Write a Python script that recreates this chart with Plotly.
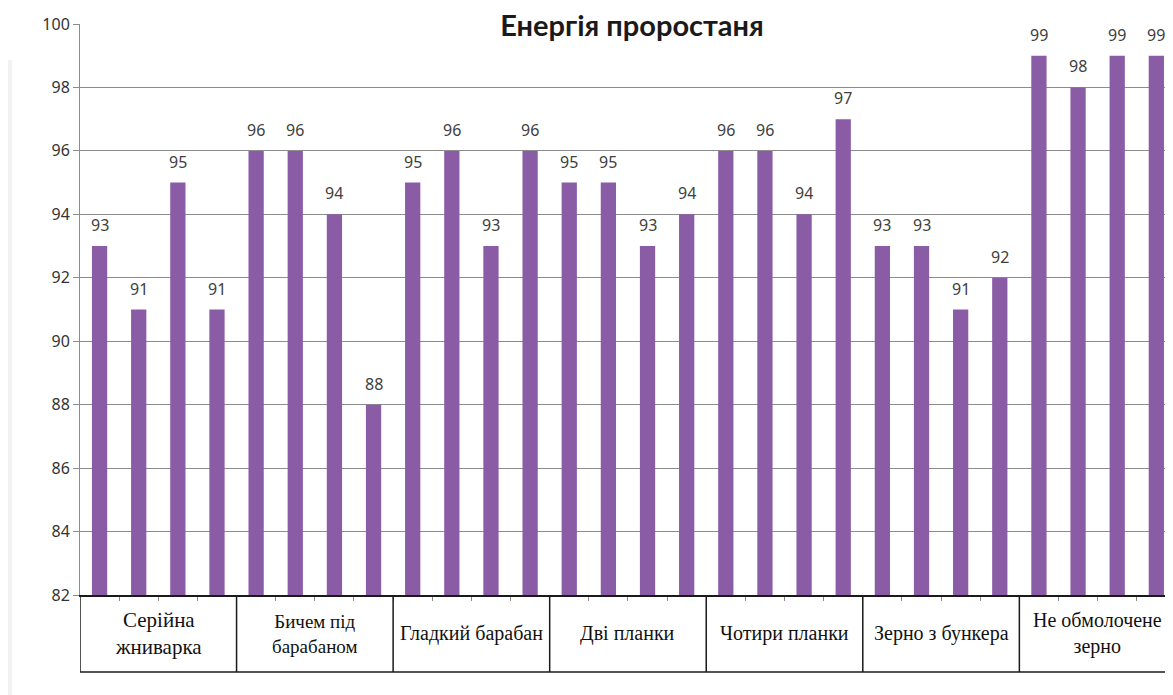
import plotly.graph_objects as go

groups = ["Серійна<br>жниварка", "Бичем під<br>барабаном", "Гладкий барабан", "Дві планки",
          "Чотири планки", "Зерно з бункера", "Не обмолочене<br>зерно"]
values = [93, 91, 95, 91,
          96, 96, 94, 88,
          95, 96, 93, 96,
          95, 95, 93, 94,
          96, 96, 94, 97,
          93, 93, 91, 92,
          99, 98, 99, 99]
y_ticks = [82, 84, 86, 88, 90, 92, 94, 96, 98, 100]
title = "Енергія проростаня"

# page has an 8px body margin: figure starts at (8, 8)
OFF = 8
W, H = 1173, 695
L, T = 80 - OFF, 24 - OFF
B = H + OFF - 595
plot_w = W - L
plot_h = H - T - B
slot = 39.14
bars_per_group = 4
xpos = list(range(len(values)))
x_max = -0.5 + plot_w / slot
table_bottom = -(672 - 595) / plot_h

fig = go.Figure()
fig.add_trace(go.Bar(x=xpos, y=values, width=0.39, marker=dict(color="#8A5CA6", line=dict(width=0)),
                     cliponaxis=False))

annotations = []
for x, v in zip(xpos, values):
    annotations.append(dict(x=x, y=v, xref="x", yref="y", text=str(v), showarrow=False,
                            yanchor="middle", yshift=21,
                            font=dict(family="Noto Sans", size=16, color="#404040")))
group_sizes = [21, 19, 20, 20, 20, 20, 20]
for i, g in enumerate(groups):
    c = i * bars_per_group + (bars_per_group - 1) / 2
    annotations.append(dict(x=c, y=table_bottom / 2, xref="x", yref="paper", text=g, showarrow=False,
                            yanchor="middle", xanchor="center",
                            font=dict(family="Times New Roman, Liberation Serif, serif",
                                      size=group_sizes[i], color="#111111")))

shapes = []
for i in range(len(groups)):
    xb = i * bars_per_group - 0.5
    shapes.append(dict(type="line", xref="x", yref="paper", x0=xb, x1=xb, y0=0, y1=table_bottom,
                       line=dict(color="#1a1a1a", width=1.5)))
shapes.append(dict(type="line", xref="x", yref="paper", x0=-0.5, x1=x_max, y0=table_bottom, y1=table_bottom,
                   line=dict(color="#1a1a1a", width=1.5)))
shapes.append(dict(type="rect", xref="paper", yref="paper", x0=-(80 - OFF) / plot_w, x1=-(80 - 12) / plot_w,
                   y0=-B / plot_h, y1=(595 - 60) / plot_h, fillcolor="#f2f2f2", line=dict(width=0),
                   layer="below"))

fig.update_layout(
    width=W, height=H,
    margin=dict(l=L, r=0, t=T, b=B),
    paper_bgcolor="white", plot_bgcolor="white",
    showlegend=False,
    title=dict(text="<b>" + title + "</b>", x=(632 - OFF) / W, xanchor="center",
               y=1 - (26 - OFF) / H, yanchor="middle",
               font=dict(family="Lato", size=29, color="#1a1a1a")),
    xaxis=dict(range=[-0.5, x_max], showgrid=False, zeroline=False,
               showline=True, linecolor="#1a1a1a", linewidth=1.5,
               tickvals=[x + 0.5 for x in xpos], ticktext=["" for _ in xpos],
               ticks="outside", ticklen=4, tickcolor="#888888"),
    yaxis=dict(range=[82, 100], tickvals=y_ticks, showgrid=True, gridcolor="#8c8c8c", gridwidth=1,
               zeroline=False, showline=True, linecolor="#8c8c8c", linewidth=1,
               ticks="outside", ticklen=6, tickcolor="#8c8c8c",
               tickfont=dict(family="Noto Sans", size=16, color="#333333")),
    annotations=annotations,
    shapes=shapes,
    bargap=0.6,
)

fig.write_html("out.html")
